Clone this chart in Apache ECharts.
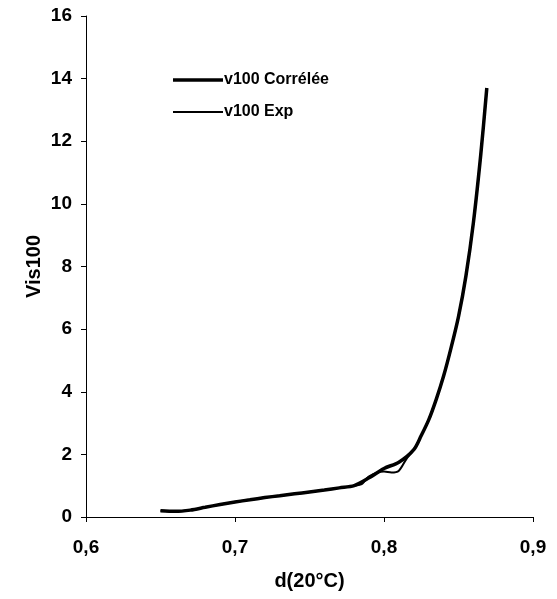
<!DOCTYPE html>
<html>
<head>
<meta charset="utf-8">
<script src="https://cdn.jsdelivr.net/npm/echarts@6/dist/echarts.min.js"></script>
<style>html,body{margin:0;padding:0;background:#fff;}#c{width:557px;height:599px;}</style>
</head>
<body>
<div id="c"></div>
<script>
const seriesNames = ['v100 Corrélée', 'v100 Exp'];
const dCorrelee = [0.650,0.660,0.670,0.680,0.690,0.700,0.710,0.720,0.730,0.740,0.750,0.760,0.770,0.780,0.790,0.800,0.810,0.820,0.825,0.830,0.835,0.840,0.845,0.850,0.855,0.860,0.865,0.869];
const vCorrelee = [0.20,0.18,0.22,0.31,0.40,0.48,0.55,0.62,0.68,0.74,0.80,0.86,0.93,1.00,1.25,1.55,1.75,2.15,2.60,3.10,3.75,4.50,5.40,6.40,7.70,9.40,11.60,13.70];
const dExp = [0.650,0.660,0.670,0.680,0.690,0.700,0.710,0.720,0.730,0.740,0.750,0.760,0.770,0.780,0.785,0.790,0.800,0.805,0.810,0.815,0.820,0.825,0.830,0.835,0.840,0.845,0.850,0.855,0.860,0.865,0.869];
const vExp = [0.20,0.18,0.22,0.31,0.40,0.48,0.55,0.62,0.68,0.74,0.80,0.86,0.93,1.00,1.05,1.30,1.45,1.42,1.48,1.85,2.15,2.60,3.10,3.75,4.50,5.40,6.40,7.70,9.40,11.60,13.70];
const xTicks = [0.6, 0.7, 0.8, 0.9];
const yTicks = [0, 2, 4, 6, 8, 10, 12, 14, 16];

const font = '"Liberation Sans", Arial, sans-serif';
const chart = echarts.init(document.getElementById('c'), null, {renderer: 'canvas'});
chart.setOption({
  backgroundColor: '#fff',
  animation: false,
  grid: {left: 86, right: 24, top: 16, bottom: 82, containLabel: false, outerBoundsMode: 'none'},
  legend: {
    left: 168, top: 67, orient: 'vertical', itemWidth: 50, itemHeight: 16, itemGap: 16,
    textStyle: {fontFamily: font, fontWeight: 'bold', fontSize: 16, color: '#000', padding: [0,0,0,-4]},
    data: [
      {name: seriesNames[0], icon: 'path://M0,0H50V3.5H0Z'},
      {name: seriesNames[1], icon: 'path://M0,0H50V2H0Z'}
    ]
  },
  xAxis: {
    type: 'value', min: xTicks[0], max: xTicks[xTicks.length-1], interval: 0.1,
    name: 'd(20°C)', nameLocation: 'middle', nameGap: 54, nameMoveOverlap: false,
    nameTextStyle: {fontFamily: font, fontWeight: 'bold', fontSize: 20, color: '#000'},
    axisLine: {show: true, lineStyle: {color: '#000', width: 1}},
    axisTick: {show: true, length: 5, lineStyle: {color: '#000'}},
    axisLabel: {fontFamily: font, fontWeight: 'bold', fontSize: 19, color: '#000', margin: 21,
      formatter: v => v.toFixed(1).replace('.', ',')},
    splitLine: {show: false}
  },
  yAxis: {
    type: 'value', min: yTicks[0], max: yTicks[yTicks.length-1], interval: 2,
    name: 'Vis100', nameLocation: 'middle', nameGap: 42, nameRotate: 90, nameMoveOverlap: false,
    nameTextStyle: {fontFamily: font, fontWeight: 'bold', fontSize: 20, color: '#000'},
    axisLine: {show: true, lineStyle: {color: '#000', width: 1}},
    axisTick: {show: true, length: 5, lineStyle: {color: '#000'}},
    axisLabel: {fontFamily: font, fontWeight: 'bold', fontSize: 19, color: '#000', margin: 14},
    splitLine: {show: false}
  },
  series: [
    {name: seriesNames[0], type: 'line', symbol: 'none', smooth: 0.3,
     lineStyle: {color: '#000', width: 3.5}, itemStyle: {color: '#000'},
     data: dCorrelee.map((d, i) => [d, vCorrelee[i]])},
    {name: seriesNames[1], type: 'line', symbol: 'none', smooth: 0.3,
     lineStyle: {color: '#000', width: 2}, itemStyle: {color: '#000'},
     data: dExp.map((d, i) => [d, vExp[i]])}
  ]
});
</script>
</body>
</html>
